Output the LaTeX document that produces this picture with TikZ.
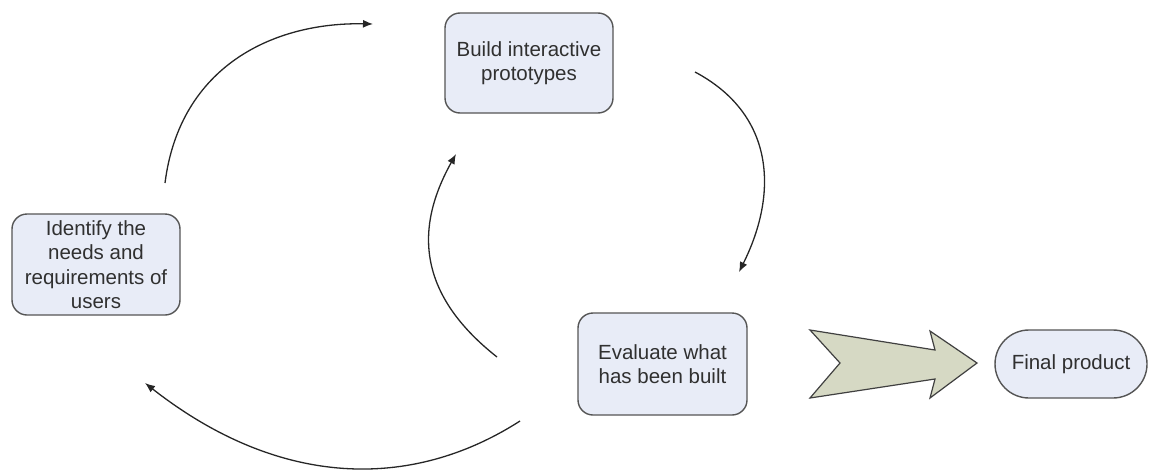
\documentclass[tikz,border=0pt]{standalone}
\usepackage{fontspec}
\setmainfont{Liberation Sans}
\usetikzlibrary{arrows.meta}
\definecolor{boxfill}{RGB}{232,236,247}
\definecolor{boxline}{RGB}{85,85,85}
\definecolor{txt}{RGB}{48,48,48}
\definecolor{bigfill}{RGB}{214,217,196}
\definecolor{bigline}{RGB}{64,64,64}
\begin{document}
\begin{tikzpicture}[x=1pt,y=-1pt,
  stepbox/.style={draw=boxline,line width=1.4pt,fill=boxfill,rounded corners=15pt,
    align=center,text=txt,inner sep=0pt,font=\fontsize{20.5}{24.5}\selectfont},
  flow/.style={draw=black!85,line width=1.3pt,-{Latex[length=10pt,width=8pt]}}]
\useasboundingbox (0,0) rectangle (1150,471);

% the four stages
\node[stepbox,minimum width=168pt,minimum height=101pt] (identify) at (96,264.5)
  {Identify the\\needs and\\requirements of\\users};
\node[stepbox,minimum width=168pt,minimum height=100pt] (build) at (529,63)
  {Build interactive\\prototypes};
\node[stepbox,minimum width=169pt,minimum height=102pt] (evaluate) at (662.5,364)
  {Evaluate what\\has been built};
\node[stepbox,minimum width=152pt,minimum height=68pt,rounded corners=34pt] (final) at (1071,364)
  {Final product};

% free ends of the cycle arrows
\coordinate (a1s) at (165,183);  \coordinate (a1e) at (373,24);
\coordinate (a2s) at (695,72);   \coordinate (a2e) at (739,272);
\coordinate (a3s) at (497,357);  \coordinate (a3e) at (456,154);
\coordinate (a4s) at (520,421);  \coordinate (a4e) at (145,383);

\draw[flow] (a1s) .. controls (180,65) and (275,22) .. (a1e);
\draw[flow] (a2s) .. controls (774,114) and (779,192) .. (a2e);
\draw[flow] (a3s) .. controls (412,290) and (418,222) .. (a3e);
\draw[flow] (a4s) .. controls (411,491) and (279,488) .. (a4e);

% broad notched arrow towards the final product
\draw[fill=bigfill,draw=bigline,line width=1.2pt,line join=miter]
  (810,330) -- (935,350) -- (930,331) -- (977,363) -- (930,398)
  -- (935,379) -- (810,398) -- (840,363) -- cycle;
\end{tikzpicture}
\end{document}
